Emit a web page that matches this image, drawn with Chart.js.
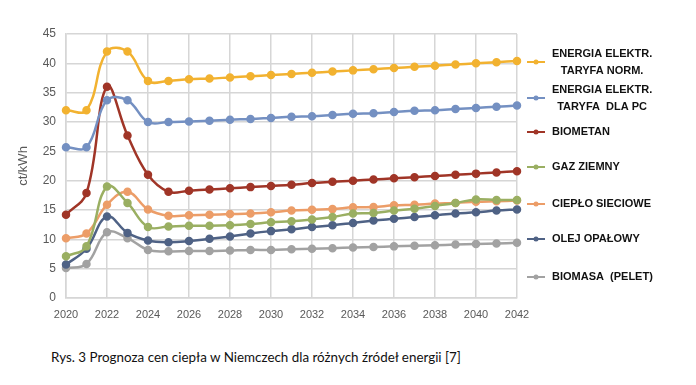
<!DOCTYPE html>
<html>
<head>
<meta charset="utf-8">
<script src="https://cdn.jsdelivr.net/npm/chart.js@4.4.1/dist/chart.umd.min.js"></script>
<style>
  html, body { margin: 0; padding: 0; background: #fff; }
  #wrap { position: relative; width: 696px; height: 385px; }
  #chart { position: absolute; left: 0; top: 0; }
  #caption {
    position: absolute; left: 0; width: 512px; top: 349px;
    text-align: center; font-family: Lato, sans-serif; font-size: 13.4px; color: #111;
  }
</style>
</head>
<body>
<div id="wrap">
  <canvas id="chart" width="696" height="335"></canvas>
  <div id="caption">Rys. 3 Prognoza cen ciepła w Niemczech dla różnych źródeł energii [7]</div>
</div>
<script>
const years = [2020, 2021, 2022, 2023, 2024, 2025, 2026, 2027, 2028, 2029, 2030, 2031,
  2032, 2033, 2034, 2035, 2036, 2037, 2038, 2039, 2040, 2041, 2042];

const energiaNorm = [32, 32, 42, 42, 37, 37, 37.3, 37.4, 37.6, 37.8, 38, 38.2,
  38.4, 38.6, 38.8, 39, 39.2, 39.4, 39.6, 39.8, 40, 40.2, 40.4];
const energiaPc = [25.7, 25.7, 33.7, 33.7, 30, 30, 30.1, 30.2, 30.4, 30.5, 30.7, 30.9,
  31, 31.2, 31.4, 31.5, 31.7, 31.9, 32, 32.2, 32.4, 32.6, 32.8];
const biometan = [14.2, 17.9, 36, 27.7, 21, 18.1, 18.3, 18.5, 18.7, 18.9, 19.1, 19.3,
  19.6, 19.8, 20, 20.2, 20.4, 20.6, 20.8, 21, 21.2, 21.4, 21.6];
const gazZiemny = [7.1, 8.8, 19, 16.2, 12.1, 12.2, 12.3, 12.3, 12.4, 12.6, 12.9, 13.1,
  13.4, 13.8, 14.4, 14.5, 14.9, 15.2, 15.7, 16.2, 16.8, 16.7, 16.7];
const cieploSieciowe = [10.2, 11, 15.9, 18.1, 15.1, 14, 14.1, 14.2, 14.3, 14.4, 14.6, 14.9,
  15.05, 15.15, 15.45, 15.5, 15.8, 15.9, 16.1, 16.2, 16.4, 16.5, 16.6];
const olejOpalowy = [5.7, 8.4, 13.9, 11.1, 9.8, 9.5, 9.7, 10.1, 10.5, 11, 11.4, 11.7,
  12.1, 12.4, 12.8, 13.2, 13.5, 13.8, 14.1, 14.4, 14.6, 14.9, 15.1];
const biomasa = [5.1, 5.8, 11.2, 10.2, 8.2, 7.95, 8, 8, 8.1, 8.2, 8.2, 8.3,
  8.4, 8.5, 8.6, 8.7, 8.8, 8.9, 9, 9.1, 9.2, 9.3, 9.4];

const seriesNames = [
  ['ENERGIA ELEKTR.', 'TARYFA NORM.'],
  ['ENERGIA ELEKTR.', 'TARYFA  DLA PC'],
  ['BIOMETAN'],
  ['GAZ ZIEMNY'],
  ['CIEPŁO SIECIOWE'],
  ['OLEJ OPAŁOWY'],
  ['BIOMASA  (PELET)']
];
const seriesValues = [energiaNorm, energiaPc, biometan, gazZiemny, cieploSieciowe, olejOpalowy, biomasa];
const colors = ['#F2B230', '#7490C2', '#A03527', '#9AAF62', '#EC9D68', '#4F6285', '#A2A2A2'];

// legend row centres (px from top of canvas)
const legendY = [62, 98, 132, 167, 204, 239, 277];

const sideLegend = {
  id: 'sideLegend',
  afterDraw(chart) {
    const ctx = chart.ctx;
    ctx.save();
    chart.data.datasets.forEach((ds, i) => {
      const y = legendY[i];
      ctx.strokeStyle = ds.borderColor;
      ctx.lineWidth = 2;
      ctx.beginPath();
      ctx.moveTo(527, y);
      ctx.lineTo(545, y);
      ctx.stroke();
      ctx.fillStyle = ds.borderColor;
      ctx.beginPath();
      ctx.arc(536, y, 2.5, 0, Math.PI * 2);
      ctx.fill();

      ctx.font = 'bold 11px "Liberation Sans", Arial, sans-serif';
      ctx.fillStyle = '#111';
      ctx.textBaseline = 'middle';
      const lines = seriesNames[i];
      const w = Math.max(...lines.map(l => ctx.measureText(l).width));
      ctx.textAlign = 'center';
      const lh = 17;
      const top = y - (lines.length - 1) * lh / 2;
      lines.forEach((l, k) => {
        ctx.fillText(l, 552 + w / 2, top + k * lh);
      });
    });
    ctx.restore();
  }
};

const datasets = seriesValues.map((vals, i) => ({
  label: seriesNames[i].join(' '),
  data: years.map((x, k) => ({ x: x, y: vals[k] })),
  borderColor: colors[i],
  backgroundColor: colors[i],
  borderWidth: 2.5,
  pointRadius: 3,
  pointHoverRadius: 3,
  tension: 0.4,
  clip: false,
  fill: false
}));

new Chart(document.getElementById('chart'), {
  type: 'line',
  data: { datasets: datasets },
  options: {
    responsive: false,
    animation: false,
    layout: { padding: { left: 0, right: 179, top: 34, bottom: 0 } },
    plugins: { legend: { display: false }, tooltip: { enabled: false } },
    scales: {
      x: {
        type: 'linear',
        min: 2020,
        max: 2042,
        afterFit(scale) { scale.height = 37; },
        ticks: {
          stepSize: 2,
          padding: 10,
          color: '#595959',
          font: { family: '"Liberation Sans Narrow", "Liberation Sans", sans-serif', size: 11 },
          callback: v => String(v),
          maxRotation: 0
        },
        grid: { color: '#D6D6D6', lineWidth: 1.5, drawTicks: false },
        border: { display: true, color: '#D6D6D6', width: 1.5 }
      },
      y: {
        min: 0,
        max: 45,
        afterFit(scale) { scale.width = 66; },
        ticks: {
          stepSize: 5,
          padding: 10,
          color: '#595959',
          font: { family: '"Liberation Sans", sans-serif', size: 12 }
        },
        title: {
          display: true,
          text: 'ct/kWh',
          color: '#595959',
          font: { family: '"Liberation Sans", sans-serif', size: 13 },
          padding: { top: 16, bottom: 0 }
        },
        grid: { color: '#D6D6D6', lineWidth: 1.5, drawTicks: false },
        border: { display: true, color: '#D6D6D6', width: 1.5 }
      }
    }
  },
  plugins: [sideLegend]
});
</script>
</body>
</html>
